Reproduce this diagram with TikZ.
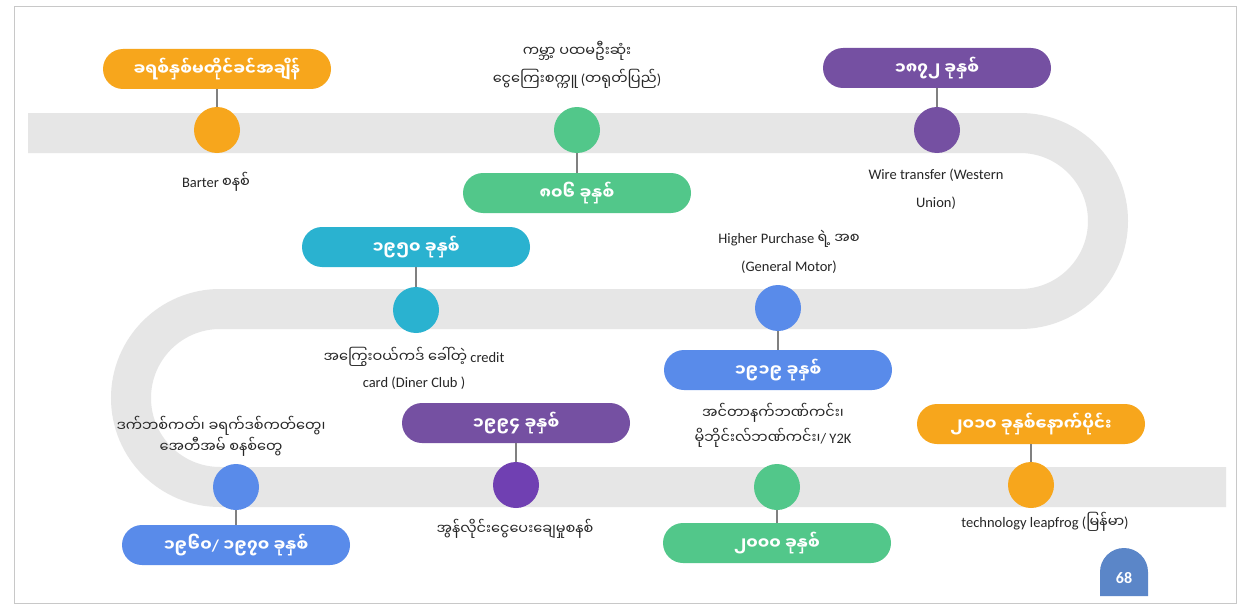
\documentclass[tikz,border=0pt]{standalone}
\usepackage{fontspec}
\setmainfont{Carlito}
\newfontfamily\my[Script=Myanmar]{Noto Sans Myanmar UI}
\definecolor{cOr}{RGB}{247,166,28}
\definecolor{cGr}{RGB}{82,199,138}
\definecolor{cPu}{RGB}{117,80,162}
\definecolor{cPuB}{RGB}{112,64,178}
\definecolor{cCy}{RGB}{42,178,208}
\definecolor{cBl}{RGB}{89,139,234}
\definecolor{cTrack}{RGB}{230,230,230}
\definecolor{cTxt}{RGB}{38,38,38}
\definecolor{cBadge}{RGB}{91,134,200}
\definecolor{cConn}{RGB}{128,128,128}
\definecolor{cFrame}{RGB}{200,200,200}
\begin{document}
\begin{tikzpicture}[x=1pt,y=-1pt,
  pill/.style={rounded corners=20pt, minimum width=228pt, minimum height=40pt, inner sep=0pt, text=white, font=\my\bfseries\fontsize{16.5}{18}\selectfont},
  dot/.style={circle, minimum size=46pt, inner sep=0pt},
  conn/.style={draw=cConn, line width=1.5pt},
  lbl/.style={text=cTxt, align=center, inner sep=0pt, font={\fontsize{14.5}{28}\selectfont\lineskiplimit=-100pt}},
  lbltight/.style={lbl, font={\fontsize{14.5}{21}\selectfont\lineskiplimit=-100pt}},
  lblmid/.style={lbl, font={\fontsize{14.5}{25}\selectfont\lineskiplimit=-100pt}}]
\useasboundingbox (0,0) rectangle (1243,610);
\fill[white] (0,0) rectangle (1243,610);
\draw[cFrame, line width=1pt] (14,7) rectangle (1236,603);
% track
\draw[cTrack, line width=40pt] (28,133) -- (1020,133)
  arc[start angle=-90, end angle=90, radius=88] -- (220,309)
  arc[start angle=-90, end angle=-270, radius=89] -- (1226,487);
% 1 orange top-left
\node[dot, fill=cOr] (c1) at (217,130) {};
\node[pill, fill=cOr] (p1) at (217,69) {ခရစ်နှစ်မတိုင်ခင်အချိန်};
\draw[conn] (p1.south) -- (c1.north);
\node[lbl] (t1) at (216,182) {Barter {\my စနစ်}};
% 2 green top
\node[dot, fill=cGr] (c2) at (577,130) {};
\node[pill, fill=cGr] (p2) at (577,193) {၈၀၆ ခုနှစ်};
\draw[conn] (c2.south) -- (p2.north);
\node[lbl] (t2) at (577,65) {{\my ကမ္ဘာ့ ပထမဦးဆုံး}\\{\my ငွေကြေးစက္ကူ} ({\my တရုတ်ပြည်})};
% 3 purple top-right
\node[dot, fill=cPu] (c3) at (937,130) {};
\node[pill, fill=cPu] (p3) at (937,68) {၁၈၇၂ ခုနှစ်};
\draw[conn] (p3.south) -- (c3.north);
\node[lbl] (t3) at (936,189) {Wire transfer (Western\\Union)};
% 4 cyan
\node[dot, fill=cCy] (c4) at (416,310) {};
\node[pill, fill=cCy] (p4) at (416,247) {၁၉၅၀ ခုနှစ်};
\draw[conn] (p4.south) -- (c4.north);
\node[lblmid] (t4) at (414,368) {{\my အကြွေးဝယ်ကဒ် ခေါ်တဲ့} credit\\card (Diner Club )};
% 5 blue middle
\node[dot, fill=cBl] (c5) at (778,308) {};
\node[pill, fill=cBl] (p5) at (778,370) {၁၉၁၉ ခုနှစ်};
\draw[conn] (c5.south) -- (p5.north);
\node[lbl] (t5) at (789,252) {Higher Purchase {\my ရဲ့ အစ}\\(General Motor)};
% 6 blue bottom-left
\node[dot, fill=cBl] (c6) at (236,487) {};
\node[pill, fill=cBl] (p6) at (236,545) {၁၉၆၀{\rmfamily /} ၁၉၇၀ ခုနှစ်};
\draw[conn] (c6.south) -- (p6.north);
\node[lbltight] (t6) at (221,436) {{\my ဒက်ဘစ်ကတ်၊ ခရက်ဒစ်ကတ်တွေ၊}\\{\my အေတီအမ် စနစ်တွေ}};
% 7 purple bottom
\node[dot, fill=cPuB] (c7) at (516,485) {};
\node[pill, fill=cPu] (p7) at (516,423) {၁၉၉၄ ခုနှစ်};
\draw[conn] (p7.south) -- (c7.north);
\node[lbl] (t7) at (515,529) {{\my အွန်လိုင်းငွေပေးချေမှုစနစ်}};
% 8 green bottom
\node[dot, fill=cGr] (c8) at (777,487) {};
\node[pill, fill=cGr] (p8) at (777,543) {၂၀၀၀ ခုနှစ်};
\draw[conn] (c8.south) -- (p8.north);
\node[lblmid] (t8) at (773,425) {{\my အင်တာနက်ဘဏ်ကင်း၊}\\{\my မိုဘိုင်းလ်ဘဏ်ကင်း၊}/ Y2K};
% 9 orange bottom-right
\node[dot, fill=cOr] (c9) at (1031,485) {};
\node[pill, fill=cOr] (p9) at (1031,424) {၂၀၁၀ ခုနှစ်နောက်ပိုင်း};
\draw[conn] (p9.south) -- (c9.north);
\node[lbl] (t9) at (1045,522) {technology leapfrog ({\my မြန်မာ})};
% page badge
\fill[cBadge] (1100,596) -- (1100,572) arc[start angle=180, end angle=360, radius=24] -- (1148,596) -- cycle;
\node[text=white, font=\bfseries\fontsize{16}{18}\selectfont, inner sep=0pt] (n68) at (1124,578) {68};
\end{tikzpicture}
\end{document}
